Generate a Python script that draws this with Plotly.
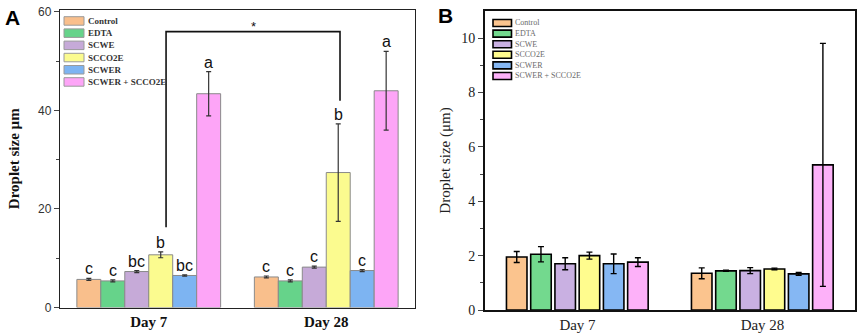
import plotly.graph_objects as go

groups = ["Day 7", "Day 28"]
series = ["Control", "EDTA", "SCWE", "SCCO2E", "SCWER", "SCWER + SCCO2E"]

colors_a = ["#F9BF8C", "#66D38A", "#C6AAD8", "#FBFB8F", "#7DB4F2", "#FDA5F7"]
colors_b = ["#FBC48E", "#73D98E", "#C9B0E2", "#FFFC8E", "#85B7F3", "#FDB1F9"]

# Panel A: droplet size (µm) per series, [Day 7, Day 28]
a_means = [[5.7, 6.2], [5.4, 5.4], [7.3, 8.2], [10.7, 27.4], [6.5, 7.5], [43.4, 44.0]]
a_errs = [[0.2, 0.2], [0.2, 0.2], [0.2, 0.2], [0.6, 9.9], [0.15, 0.2], [4.5, 8.0]]
a_letters = [["c", "c"], ["c", "c"], ["bc", "c"], ["b", "b"], ["bc", "c"], ["a", "a"]]

# Panel B: droplet size (µm) per series, [Day 7, Day 28]
b_means = [[1.95, 1.35], [2.05, 1.44], [1.70, 1.45], [2.00, 1.51], [1.70, 1.33], [1.76, 5.34]]
b_errs = [[0.20, 0.20], [0.28, 0.02], [0.22, 0.11], [0.13, 0.03], [0.36, 0.05], [0.16, 4.47]]

# significance bracket between SCCO2E Day 7 and Day 28 (A)
bracket_y = 56.0
bracket_left_bottom = 16.3
bracket_right_bottom = 42.0

W, H = 858, 336
def px(x): return x / W
def py(y): return 1 - y / H

SERIF = "Liberation Serif"
SANS = "Liberation Sans"

fig = go.Figure()

wa, wb = 0.135, 0.111
pitch_a, pitch_b = 0.135, 0.131
start_a, start_b = -0.405, -0.384

annotations = []
for i, name in enumerate(series):
    fig.add_trace(go.Bar(
        x=groups, y=a_means[i], name=name, xaxis="x", yaxis="y",
        width=wa, offset=start_a + i * pitch_a,
        marker=dict(color=colors_a[i], line=dict(color="#8a8a8a", width=1)),
        error_y=dict(type="data", array=a_errs[i], color="#333333", thickness=1.2, width=2.5),
        showlegend=False,
    ))
    fig.add_trace(go.Bar(
        x=groups, y=b_means[i], name=name, xaxis="x2", yaxis="y2",
        width=wb, offset=start_b + i * pitch_b,
        marker=dict(color=colors_b[i], line=dict(color="#000000", width=1.6)),
        error_y=dict(type="data", array=b_errs[i], color="#000000", thickness=1.4, width=3),
        showlegend=False,
    ))
    for g in range(len(groups)):
        annotations.append(dict(
            x=g + start_a + i * pitch_a + wa / 2, y=a_means[i][g] + a_errs[i][g],
            xref="x", yref="y", text=a_letters[i][g], showarrow=False,
            yanchor="bottom", yshift=-1,
            font=dict(family=SANS, size=16, color="#111111")))

# bracket
sx_left = 0 + start_a + 3 * pitch_a + wa / 2 + 0.03
sx_right = 1 + start_a + 3 * pitch_a + wa / 2 + 0.01
shapes = [dict(type="path", xref="x", yref="y",
               path=f"M {sx_left},{bracket_left_bottom} L {sx_left},{bracket_y} L {sx_right},{bracket_y} L {sx_right},{bracket_right_bottom}",
               line=dict(color="#111111", width=1.6))]
annotations.append(dict(x=(sx_left + sx_right) / 2, y=bracket_y, xref="x", yref="y",
                        text="*", showarrow=False, yanchor="bottom", yshift=-4,
                        font=dict(family=SANS, size=13, color="#111111")))

# manual legends
for i, name in enumerate(series):
    # A
    y0 = 16.7 + i * 12.2
    shapes.append(dict(type="rect", xref="paper", yref="paper",
                       x0=px(64), x1=px(84), y0=py(y0 + 8.5), y1=py(y0),
                       fillcolor=colors_a[i], line=dict(color="#9a9a9a", width=1)))
    annotations.append(dict(x=px(85.5), y=py(y0 + 4.3), xref="paper", yref="paper",
                            text=name, showarrow=False, xanchor="left", yanchor="middle",
                            font=dict(family=SERIF, size=9, color="#333333", weight="bold")))
    # B
    y1 = 19.5 + i * 10.6
    shapes.append(dict(type="rect", xref="paper", yref="paper",
                       x0=px(493), x1=px(511.5), y0=py(y1 + 7), y1=py(y1),
                       fillcolor=colors_b[i], line=dict(color="#000000", width=1.6)))
    annotations.append(dict(x=px(513), y=py(y1 + 3.5), xref="paper", yref="paper",
                            text=name, showarrow=False, xanchor="left", yanchor="middle",
                            font=dict(family=SERIF, size=8, color="#6a6a6a")))

# panel labels
annotations.append(dict(x=px(3), y=py(4), xref="paper", yref="paper", text="A",
                        showarrow=False, xanchor="left", yanchor="top",
                        font=dict(family=SANS, size=21, color="#000000", weight="bold")))
annotations.append(dict(x=px(436), y=py(2), xref="paper", yref="paper", text="B",
                        showarrow=False, xanchor="left", yanchor="top",
                        font=dict(family=SANS, size=21, color="#000000", weight="bold")))

fig.update_layout(
    width=W, height=H, margin=dict(l=0, r=0, t=0, b=0, autoexpand=False),
    paper_bgcolor="white", plot_bgcolor="white",
    barmode="overlay", showlegend=False,
    shapes=shapes, annotations=annotations,
    xaxis=dict(domain=[px(60), px(415)], anchor="y", type="category", automargin=False,
               categoryorder="array", categoryarray=groups, range=[-0.5, 1.5],
               showline=True, mirror=True, linecolor="#222222", linewidth=1.4,
               ticks="", showgrid=False,
               tickfont=dict(family=SERIF, size=15, color="#111111", weight="bold")),
    yaxis=dict(domain=[py(307.5), py(10)], anchor="x", range=[0, 60.4], automargin=False,
               tickvals=[0, 20, 40, 60], ticks="outside", ticklen=5, tickwidth=1.2,
               minor=dict(tickvals=[10, 30, 50], ticks="outside", ticklen=3, tickwidth=1.2),
               showline=True, mirror=True, linecolor="#222222", linewidth=1.4,
               showgrid=False, zeroline=False,
               tickfont=dict(family=SANS, size=12, color="#333333"),
               title=dict(text="Droplet size µm", standoff=14,
                          font=dict(family=SERIF, size=15, color="#111111", weight="bold"))),
    xaxis2=dict(domain=[px(485), px(855)], anchor="y2", type="category", automargin=False,
                categoryorder="array", categoryarray=groups, range=[-0.5, 1.5],
                showline=True, mirror=True, linecolor="#111111", linewidth=2,
                ticks="", showgrid=False,
                tickfont=dict(family=SERIF, size=15, color="#222222")),
    yaxis2=dict(domain=[py(310), py(11)], anchor="x2", range=[0, 11], automargin=False,
                tickvals=[0, 2, 4, 6, 8, 10], ticks="outside", ticklen=5, tickwidth=1.4,
                minor=dict(tickvals=[1, 3, 5, 7, 9], ticks="outside", ticklen=3, tickwidth=1.4),
                showline=True, mirror=True, linecolor="#111111", linewidth=2,
                showgrid=False, zeroline=False,
                tickfont=dict(family=SERIF, size=14, color="#222222"),
                title=dict(text="Droplet size (μm)", standoff=7,
                           font=dict(family=SERIF, size=15, color="#222222"))),
)

fig.write_html("out.html", config={"displayModeBar": False},
               post_script="document.body.style.margin='0';document.body.style.overflow='hidden';")
